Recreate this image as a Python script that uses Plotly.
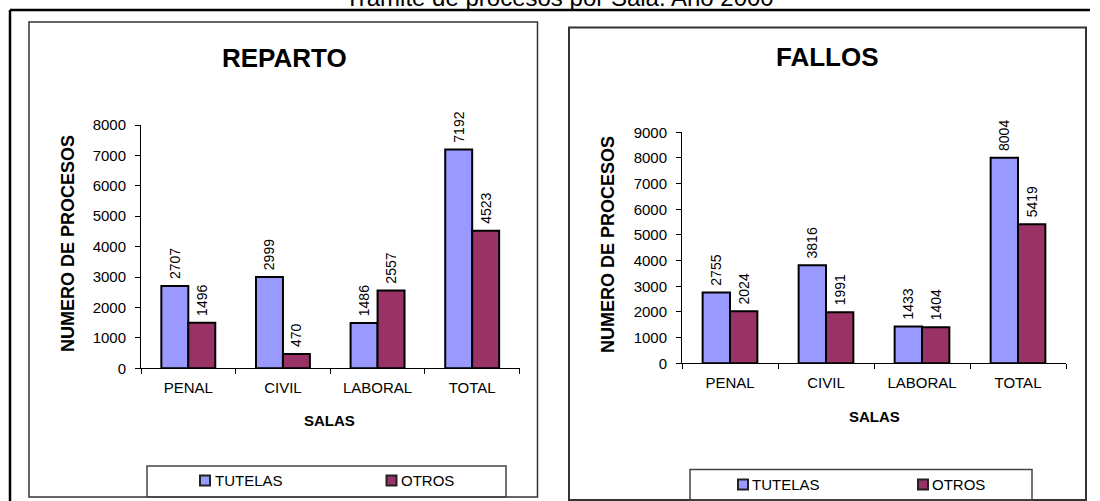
import plotly.graph_objects as go

# ---- data ----
categories = ["PENAL", "CIVIL", "LABORAL", "TOTAL"]
series_names = ["TUTELAS", "OTROS"]
reparto_tutelas = [2707, 2999, 1486, 7192]
reparto_otros = [1496, 470, 2557, 4523]
fallos_tutelas = [2755, 3816, 1433, 8004]
fallos_otros = [2024, 1991, 1404, 5419]
reparto_ticks = [0, 1000, 2000, 3000, 4000, 5000, 6000, 7000, 8000]
fallos_ticks = [0, 1000, 2000, 3000, 4000, 5000, 6000, 7000, 8000, 9000]

main_title = "Trámite de procesos por Sala. Año 2000"
panel_titles = ["REPARTO", "FALLOS"]
y_title = "NUMERO DE PROCESOS"
x_title = "SALAS"

# ---- style ----
W, H = 1100, 501
FONT = "Liberation Sans, Arial, sans-serif"
COL_TUT = "#9999FF"
COL_OTR = "#993366"


def px(x):
    return x / W


def py(y):
    return 1 - y / H


fig = go.Figure()


def add_bars(vals_t, vals_o, xa, ya):
    for name, vals, col in [(series_names[0], vals_t, COL_TUT), (series_names[1], vals_o, COL_OTR)]:
        fig.add_trace(go.Bar(
            x=categories, y=vals, name=name,
            marker=dict(color=col, line=dict(color="black", width=2)),
            text=["\u00a0" + str(v) for v in vals],
            textposition="outside", textangle=-90,
            textfont=dict(family=FONT, size=14, color="black"),
            constraintext="none", cliponaxis=False,
            xaxis=xa, yaxis=ya, showlegend=False, hoverinfo="skip",
        ))


add_bars(reparto_tutelas, reparto_otros, "x", "y")
add_bars(fallos_tutelas, fallos_otros, "x2", "y2")

xcommon = dict(type="category", tickson="boundaries", ticks="outside", ticklen=5,
               tickcolor="black", showline=True, linecolor="black", linewidth=1,
               showgrid=False, zeroline=False, ticklabelstandoff=6, automargin=False,
               tickfont=dict(family=FONT, size=15, color="black"), fixedrange=True)
ycommon = dict(ticks="outside", ticklen=5, tickcolor="black", showline=True,
               linecolor="black", linewidth=1, showgrid=False, zeroline=False,
               ticklabelstandoff=6, automargin=False,
               tickfont=dict(family=FONT, size=15, color="black"), fixedrange=True)

fig.update_layout(
    width=W, height=H,
    margin=dict(l=0, r=0, t=0, b=0, pad=0, autoexpand=False),
    paper_bgcolor="white", plot_bgcolor="white",
    barmode="group", bargap=0.43, bargroupgap=0,
    font=dict(family=FONT, color="black"),
    xaxis=dict(domain=[px(141), px(519.5)], anchor="y", **xcommon),
    yaxis=dict(domain=[py(368.3), py(125)], anchor="x", range=[0, 8000],
               tickvals=reparto_ticks, **ycommon),
    xaxis2=dict(domain=[px(682), px(1066)], anchor="y2", **xcommon),
    yaxis2=dict(domain=[py(363.3), py(132.3)], anchor="x2", range=[0, 9000],
                tickvals=fallos_ticks, **ycommon),
)

shapes = []
# outer frame (top + left)
shapes.append(dict(type="line", xref="paper", yref="paper", x0=px(10), x1=px(1090), y0=py(10), y1=py(10),
                   line=dict(color="black", width=2.5)))
shapes.append(dict(type="line", xref="paper", yref="paper", x0=px(10), x1=px(10), y0=py(10), y1=py(505),
                   line=dict(color="black", width=2.5)))
# panel boxes
shapes.append(dict(type="rect", xref="paper", yref="paper", x0=px(29), x1=px(537.5), y0=py(22), y1=py(497),
                   line=dict(color="#333333", width=1.5)))
shapes.append(dict(type="rect", xref="paper", yref="paper", x0=px(569), x1=px(1086), y0=py(27.5), y1=py(500),
                   line=dict(color="#333333", width=2)))
# legend boxes
shapes.append(dict(type="rect", xref="paper", yref="paper", x0=px(147), x1=px(506), y0=py(466), y1=py(497),
                   line=dict(color="#444444", width=1.5)))
shapes.append(dict(type="rect", xref="paper", yref="paper", x0=px(690), x1=px(1032), y0=py(469.5), y1=py(500),
                   line=dict(color="#444444", width=1.5)))

annotations = []


def ann(text, x, y, size, bold=False, angle=0, xanchor="center", yanchor="middle"):
    annotations.append(dict(text=("<b>%s</b>" % text) if bold else text, x=px(x), y=py(y),
                            xref="paper", yref="paper", showarrow=False, textangle=angle,
                            xanchor=xanchor, yanchor=yanchor,
                            font=dict(family=FONT, size=size, color="black")))


# legends (manual, inside boxes)
legend_specs = [
    # (square x0, text x, y center)
    [(200, 213, 480.5), (386.5, 399, 480.5)],
    [(738, 750, 484.5), (918, 930, 484.5)],
]
for spec in legend_specs:
    for (sx, tx, cy), name, col in zip(spec, series_names, [COL_TUT, COL_OTR]):
        shapes.append(dict(type="rect", xref="paper", yref="paper", x0=px(sx), x1=px(sx + 10),
                           y0=py(cy - 5), y1=py(cy + 5), fillcolor=col,
                           line=dict(color="#222222", width=2)))
        ann(name, tx, cy, 15, xanchor="left")

ann(panel_titles[0], 284, 57.5, 26, bold=True)
ann(panel_titles[1], 827, 57, 26, bold=True)
ann(y_title, 68, 244, 18, bold=True, angle=-90)
ann(y_title, 608, 245, 18, bold=True, angle=-90)
ann(x_title, 329, 420, 15, bold=True)
ann(x_title, 874, 416, 15, bold=True)
ann(main_title, 559, 13, 24, yanchor="bottom")

fig.update_layout(shapes=shapes, annotations=annotations)

fig.write_html("out.html", config={"displayModeBar": False, "staticPlot": True},
               post_script="document.body.style.margin='0px';document.body.style.overflow='hidden';")
